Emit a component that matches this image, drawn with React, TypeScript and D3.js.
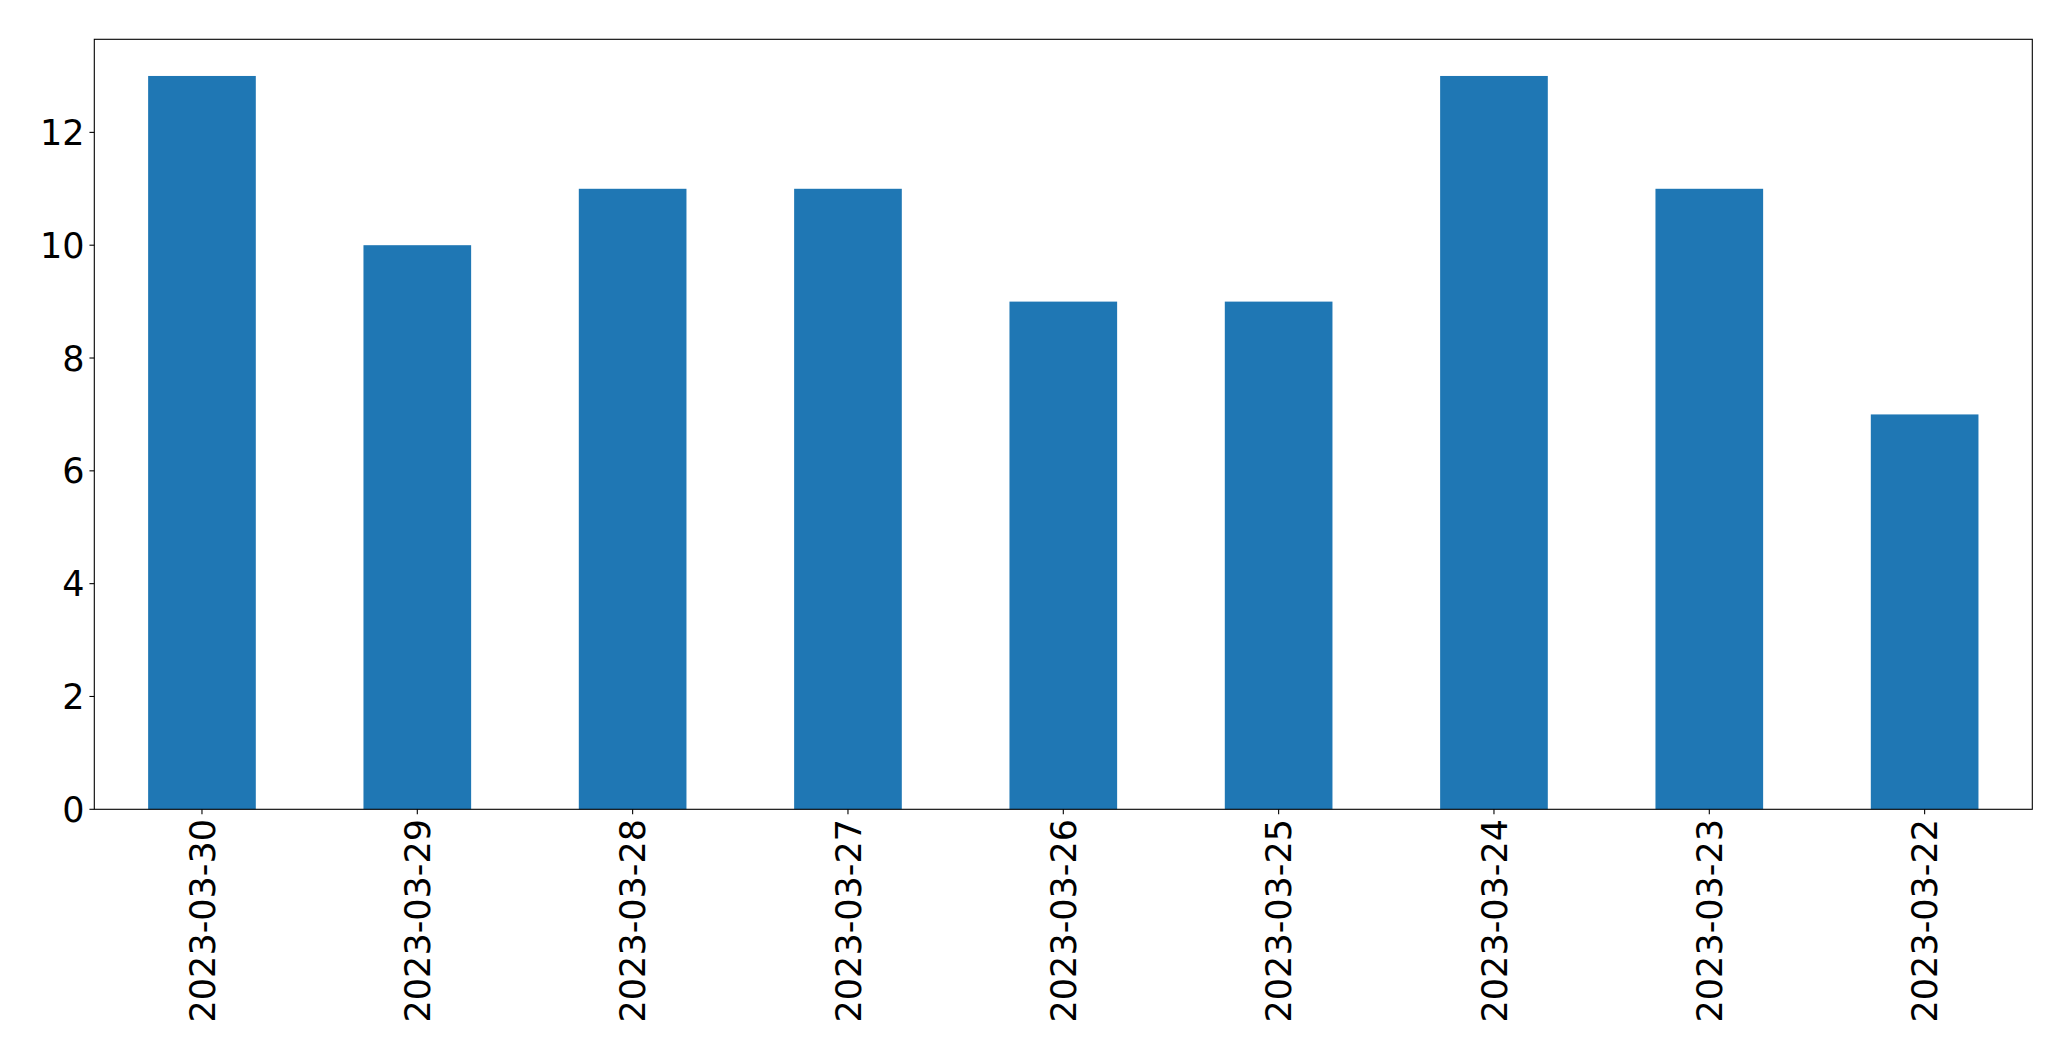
import React from "react";
import * as d3 from "d3";

const categories = ["2023-03-30", "2023-03-29", "2023-03-28", "2023-03-27", "2023-03-26", "2023-03-25", "2023-03-24", "2023-03-23", "2023-03-22"];
const values = [13, 10, 11, 11, 9, 9, 13, 11, 7];
const yTicks = [0, 2, 4, 6, 8, 10, 12];

const W = 2071;
const H = 1061;
const M = { left: 94.3, right: 2032.3, top: 39.3, bottom: 809.3 };
const FONT = "'DejaVu Sans', sans-serif";
const FS = 35;

export default function App() {
  const x = d3.scaleBand<string>().domain(categories).range([M.left, M.right]).paddingInner(0.5).paddingOuter(0.25);
  const yMax = d3.max(values)! * 1.05;
  const y = d3.scaleLinear().domain([0, yMax]).range([M.bottom, M.top]);
  const tickLen = 4.86;
  const pad = 4.86;
  return (
    <svg width={W} height={H} style={{ position: "absolute", left: 0, top: 0, background: "#fff" }}>
      <rect x={0} y={0} width={W} height={H} fill="#fff" />
      {values.map((v, i) => (
        <rect key={i} x={x(categories[i])} y={y(v)} width={x.bandwidth()} height={y(0) - y(v)} fill="#1f77b4" />
      ))}
      <rect x={M.left} y={M.top} width={M.right - M.left} height={M.bottom - M.top} fill="none" stroke="#000" strokeWidth={1.1} />
      {yTicks.map((t) => (
        <g key={t}>
          <line x1={M.left - tickLen} x2={M.left} y1={y(t)} y2={y(t)} stroke="#000" strokeWidth={1.1} />
          <text x={M.left - tickLen - pad} y={y(t)} dy="0.36em" textAnchor="end" fontFamily={FONT} fontSize={FS} fill="#000">{t}</text>
        </g>
      ))}
      {categories.map((c) => {
        const cx = x(c)! + x.bandwidth() / 2;
        const ty = M.bottom + tickLen + pad;
        return (
          <g key={c}>
            <line x1={cx} x2={cx} y1={M.bottom} y2={M.bottom + tickLen} stroke="#000" strokeWidth={1.1} />
            <text transform={`translate(${cx},${ty}) rotate(-90)`} textAnchor="end" dy="0.36em" fontFamily={FONT} fontSize={FS} fill="#000">{c}</text>
          </g>
        );
      })}
    </svg>
  );
}
